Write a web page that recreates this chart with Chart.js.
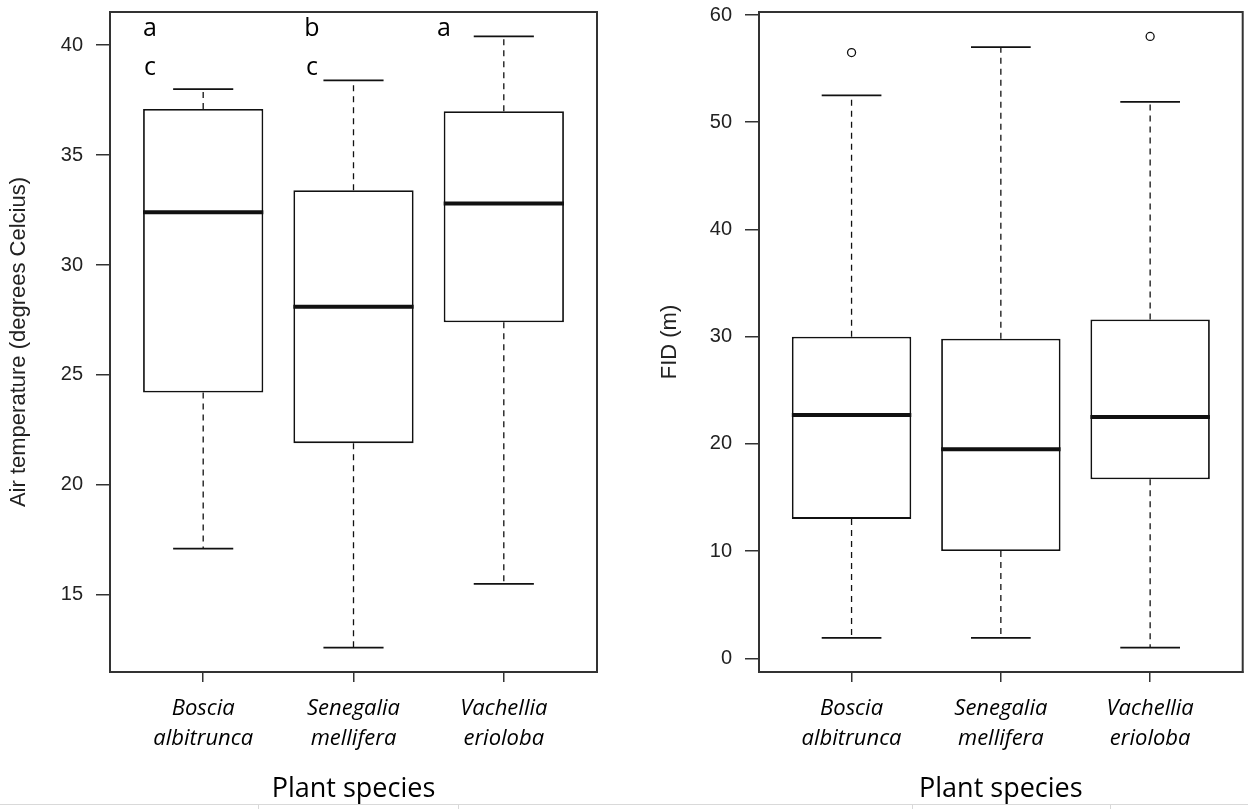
<!DOCTYPE html>
<html>
<head>
<meta charset="utf-8">
<script src="https://cdn.jsdelivr.net/npm/chart.js@4/dist/chart.umd.min.js"></script>
<style>
  html, body { margin: 0; padding: 0; background: #fff; }
  #wrap { position: relative; width: 1248px; height: 809px; background: #fff; overflow: hidden; }
  canvas { position: absolute; top: 0; }
  .rule { position: absolute; background: #d9d9d9; }
</style>
</head>
<body>
<div id="wrap">
  <canvas id="tempChart" width="620" height="809" style="left:0"></canvas>
  <canvas id="fidChart" width="628" height="809" style="left:620px"></canvas>
  <div class="rule" style="left:0;top:804px;width:1248px;height:1px"></div>
  <div class="rule" style="left:258px;top:804px;width:1px;height:5px"></div>
  <div class="rule" style="left:458px;top:804px;width:1px;height:5px"></div>
  <div class="rule" style="left:912px;top:804px;width:1px;height:5px"></div>
  <div class="rule" style="left:1110px;top:804px;width:1px;height:5px"></div>
</div>
<script>
// species on the x axis (box positions 1..3)
const species = [['Boscia', 'albitrunca'], ['Senegalia', 'mellifera'], ['Vachellia', 'erioloba']];
const positions = [1, 2, 3];

// air temperature boxplot stats
const tempLow = [17.1, 12.6, 15.5];
const tempQ1 = [24.2, 21.9, 27.4];
const tempMedian = [32.4, 28.1, 32.8];
const tempQ3 = [37.1, 33.4, 37.0];
const tempHigh = [38.0, 38.4, 40.4];
const tempTicks = [15, 20, 25, 30, 35, 40];

// significance letters above the temperature boxes
const sigTop = ['a', 'b', 'a'];
const sigBottom = ['c', 'c', ''];

// FID boxplot stats
const fidLow = [1.9, 1.9, 1.0];
const fidQ1 = [13.0, 10.0, 16.7];
const fidMedian = [22.7, 19.5, 22.5];
const fidQ3 = [30.0, 29.8, 31.6];
const fidHigh = [52.5, 57.0, 51.9];
const fidOutliers = [[56.5], [], [58.0]];
const fidTicks = [0, 10, 20, 30, 40, 50, 60];

const INK = '#111';
const AXIS = '#333';
const BOX_HALF = 0.4;
const STAPLE_HALF = 0.2;

function boxDatasets(low, q1, med, q3, high, outliers) {
  const gap = x => ({ x: x, y: null });
  const whiskers = [], staples = [], medians = [], points = [];
  positions.forEach((c, i) => {
    whiskers.push({ x: c, y: q3[i] }, { x: c, y: high[i] }, gap(c));
    whiskers.push({ x: c, y: q1[i] }, { x: c, y: low[i] }, gap(c));
    staples.push({ x: c - STAPLE_HALF, y: high[i] }, { x: c + STAPLE_HALF, y: high[i] }, gap(c));
    staples.push({ x: c - STAPLE_HALF, y: low[i] }, { x: c + STAPLE_HALF, y: low[i] }, gap(c));
    medians.push({ x: c - BOX_HALF, y: med[i] }, { x: c + BOX_HALF, y: med[i] }, gap(c));
    (outliers ? outliers[i] : []).forEach(v => points.push({ x: c, y: v }));
  });
  const line = { type: 'line', pointRadius: 0, spanGaps: false, fill: false, borderColor: INK, order: 1 };
  return [
    {
      type: 'bar',
      data: positions.map((c, i) => ({ x: c, y: [q1[i], q3[i]] })),
      backgroundColor: '#fff',
      borderColor: INK,
      borderWidth: 1.8,
      borderSkipped: false,
      categoryPercentage: 1,
      barPercentage: 0.8,
      order: 3
    },
    Object.assign({}, line, { data: whiskers, borderWidth: 1.3, borderDash: [6, 5], order: 2 }),
    Object.assign({}, line, { data: staples, borderWidth: 1.8 }),
    Object.assign({}, line, { data: medians, borderWidth: 4, borderCapStyle: 'butt' }),
    {
      type: 'scatter',
      data: points,
      pointRadius: 4,
      pointBorderWidth: 1.3,
      pointBackgroundColor: '#fff',
      pointBorderColor: INK,
      order: 0
    }
  ];
}

// closed frame around the plot region
const framePlugin = {
  id: 'frame',
  afterDraw(chart) {
    const a = chart.chartArea, ctx = chart.ctx;
    ctx.save();
    ctx.strokeStyle = AXIS;
    ctx.lineWidth = 2;
    ctx.strokeRect(a.left, a.top, a.right - a.left, a.bottom - a.top);
    ctx.restore();
  }
};

// group letters, placed in data units
const letterX = [0.646, 1.724, 2.602];
const lettersPlugin = {
  id: 'letters',
  afterDraw(chart) {
    const { ctx, scales } = chart;
    ctx.save();
    ctx.fillStyle = '#000';
    ctx.font = '25px "Open Sans"';
    ctx.textAlign = 'center';
    ctx.textBaseline = 'alphabetic';
    letterX.forEach((x, i) => {
      const px = scales.x.getPixelForValue(x);
      ctx.fillText(sigTop[i], px, scales.y.getPixelForValue(40.41));
      if (sigBottom[i]) ctx.fillText(sigBottom[i], px, scales.y.getPixelForValue(38.64));
    });
    ctx.restore();
  }
};

function makeChart(id, opts) {
  return new Chart(document.getElementById(id), {
    data: { datasets: opts.datasets },
    options: {
      responsive: false,
      animation: false,
      devicePixelRatio: 1,
      layout: { padding: { top: 12, right: opts.rightPad, bottom: 0, left: 0 } },
      plugins: { legend: { display: false }, tooltip: { enabled: false } },
      scales: {
        x: {
          type: 'linear',
          min: 0.38,
          max: 3.62,
          offset: false,
          afterBuildTicks: s => { s.ticks = positions.map(v => ({ value: v })); },
          afterFit: s => { s.height = 137; s.paddingLeft = 0; s.paddingRight = 0; },
          grid: { offset: false, drawOnChartArea: false, drawTicks: true, tickLength: 10, color: AXIS, lineWidth: 1.5 },
          border: { display: true, color: AXIS, width: 2 },
          ticks: {
            autoSkip: false,
            maxRotation: 0,
            padding: 12,
            color: '#000',
            font: { family: 'Open Sans', style: 'italic', size: 22, lineHeight: 1.35 },
            callback: v => species[v - 1]
          },
          title: {
            display: true,
            text: 'Plant species',
            color: '#000',
            font: { family: 'Open Sans', size: 27 },
            padding: { top: 0, bottom: 3 }
          }
        },
        y: {
          type: 'linear',
          min: opts.yMin,
          max: opts.yMax,
          afterBuildTicks: s => { s.ticks = opts.yTicks.map(v => ({ value: v })); },
          afterFit: s => { s.width = opts.yWidth; s.paddingTop = 0; s.paddingBottom = 0; },
          grid: { drawOnChartArea: false, drawTicks: true, tickLength: 14, color: AXIS, lineWidth: 1.5 },
          border: { display: true, color: AXIS, width: 2 },
          ticks: {
            padding: 13,
            color: '#222',
            font: { family: 'Liberation Sans', size: 20 }
          },
          title: {
            display: true,
            text: opts.yTitle,
            color: '#222',
            font: { family: 'Liberation Sans', size: 22 },
            padding: { top: opts.titlePad, bottom: 0 }
          }
        }
      }
    },
    plugins: opts.plugins
  });
}

makeChart('tempChart', {
  datasets: boxDatasets(tempLow, tempQ1, tempMedian, tempQ3, tempHigh, null),
  yMin: 11.49, yMax: 41.51, yTicks: tempTicks,
  yTitle: 'Air temperature (degrees Celcius)',
  yWidth: 110, rightPad: 23, titlePad: 6,
  plugins: [framePlugin, lettersPlugin]
});

makeChart('fidChart', {
  datasets: boxDatasets(fidLow, fidQ1, fidMedian, fidQ3, fidHigh, fidOutliers),
  yMin: -1.28, yMax: 60.28, yTicks: fidTicks,
  yTitle: 'FID (m)',
  yWidth: 139, rightPad: 4, titlePad: 37,
  plugins: [framePlugin]
});
</script>
</body>
</html>
